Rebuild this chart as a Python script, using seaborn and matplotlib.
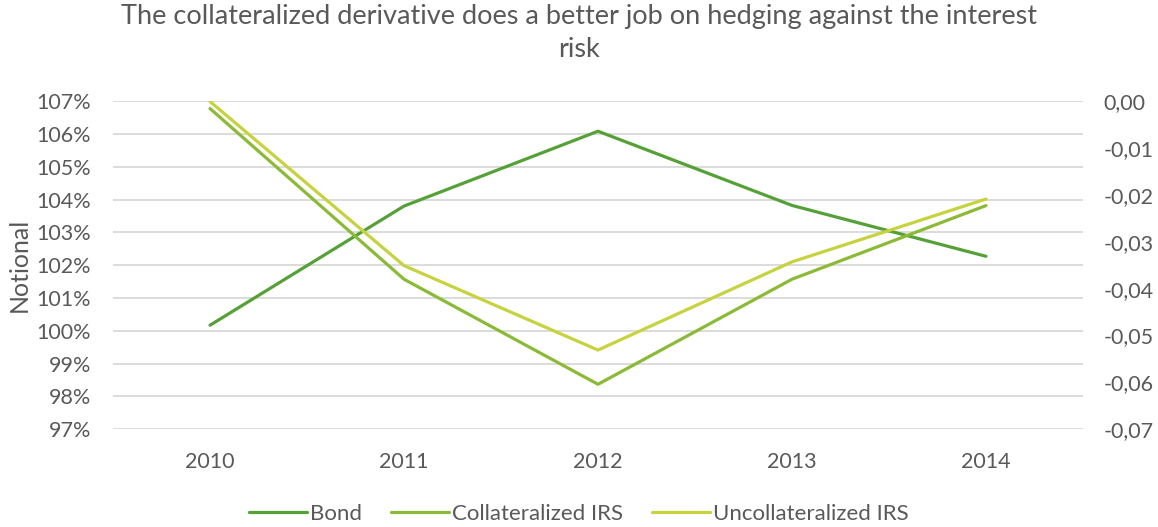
import matplotlib
matplotlib.use("Agg")
import matplotlib.pyplot as plt
import seaborn as sns
import pandas as pd
from matplotlib.ticker import FuncFormatter, FixedLocator

years = ["2010", "2011", "2012", "2013", "2014"]
bond = [100.17, 103.80, 106.08, 103.82, 102.27]
collateralized_irs = [-0.0016, -0.0380, -0.0604, -0.0380, -0.0223]
uncollateralized_irs = [-0.0001, -0.0351, -0.0531, -0.0343, -0.0209]

series_names = ["Bond", "Collateralized IRS", "Uncollateralized IRS"]
colors = ["#56A038", "#8BBA36", "#C6D33E"]
text_color = "#595959"
grid_color = "#D9D9D9"

sns.set_theme(style="white")
plt.rcParams["font.family"] = ["Lato", "DejaVu Sans"]

fig = plt.figure(figsize=(11.58, 5.27), dpi=100)
ax = fig.add_axes([0.0976, 0.1854, 0.8376, 0.6229])
ax2 = ax.twinx()

x_pos = list(range(len(years)))
df_left = pd.DataFrame({"x": x_pos, "y": bond})
df_c = pd.DataFrame({"x": x_pos, "y": collateralized_irs})
df_u = pd.DataFrame({"x": x_pos, "y": uncollateralized_irs})

sns.lineplot(data=df_left, x="x", y="y", ax=ax, color=colors[0], linewidth=2.3,
             label=series_names[0], legend=False)
sns.lineplot(data=df_c, x="x", y="y", ax=ax2, color=colors[1], linewidth=2.3,
             label=series_names[1], legend=False)
sns.lineplot(data=df_u, x="x", y="y", ax=ax2, color=colors[2], linewidth=2.3,
             label=series_names[2], legend=False)

ax.set_xlim(-0.5, len(years) - 0.5)
ax.set_ylim(97, 107)
ax2.set_ylim(-0.07, 0.0)

ax.set_xticks(x_pos)
ax.set_xticklabels(years)
ax.yaxis.set_major_locator(FixedLocator([97 + i for i in range(11)]))
ax.yaxis.set_major_formatter(FuncFormatter(lambda v, p: f"{v:.0f}%"))
ax2.yaxis.set_major_locator(FixedLocator([-0.07 + 0.01 * i for i in range(8)]))
ax2.yaxis.set_major_formatter(FuncFormatter(lambda v, p: f"{v:.2f}".replace(".", ",").replace("-0,00", "0,00")))

ax.grid(True, axis="y", color=grid_color, linewidth=1.3)
ax.grid(False, axis="x")
ax2.grid(False)
for a in (ax, ax2):
    for s in a.spines.values():
        s.set_visible(False)
    a.tick_params(length=0, colors=text_color, labelsize=15.5)
ax.tick_params(axis="y", pad=16)
ax.tick_params(axis="x", pad=16)
ax2.tick_params(axis="y", pad=15)

ax.set_xlabel("")
ax2.set_ylabel("")
ax.set_ylabel("Notional", color=text_color, fontsize=18, labelpad=4)

fig.text(0.5, 0.992, "The collateralized derivative does a better job on hedging against the interest\nrisk",
         ha="center", va="top", fontsize=19.5, color=text_color, linespacing=1.4)

handles = ax.get_lines()[:1] + ax2.get_lines()[:2]
fig.legend(handles, series_names, loc="center", bbox_to_anchor=(0.5, 0.025), ncol=3,
           frameon=False, fontsize=16, handlelength=2.6, columnspacing=1.3,
           handletextpad=0.15, labelcolor=text_color)

fig.savefig("out.png", dpi=100)
